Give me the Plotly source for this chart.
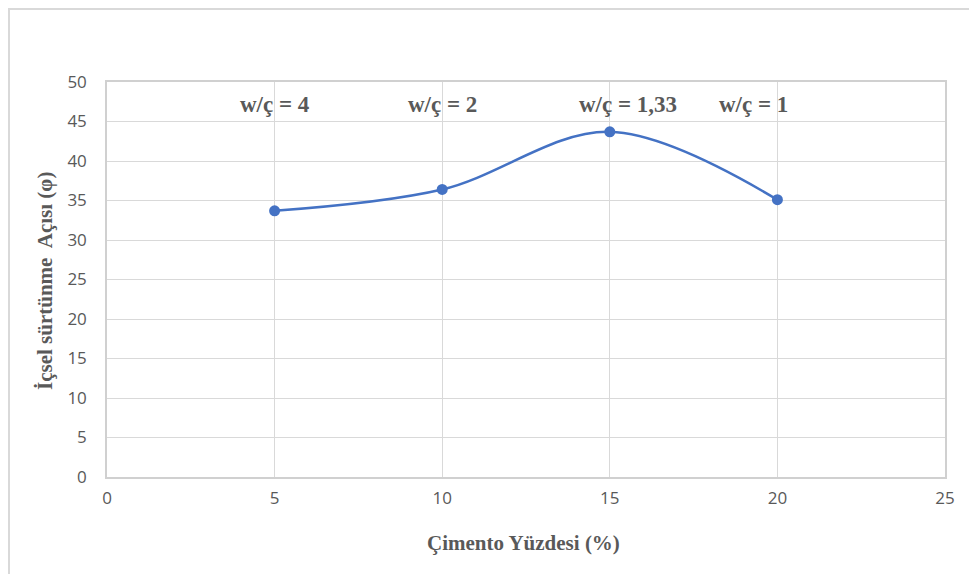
import plotly.graph_objects as go

cement_pct = [5, 10, 15, 20]
friction_angle = [33.7, 36.4, 43.7, 35.1]
wc_labels = ["w/ç = 4", "w/ç = 2", "w/ç = 1,33", "w/ç = 1"]
wc_label_x = [5.0, 10.0, 15.55, 19.3]
wc_label_y = 47.2

# figure is placed at an 8px page offset (default body margin)
W, H = 969, 566
L, R, T, B = 99, 32, 74, 97
pw, ph = W - L - R, H - T - B

def px_x(p):
    return (p - L) / pw

def px_y(p):
    return (H - B - p) / ph

GRAY = "#595959"

fig = go.Figure()
fig.add_trace(go.Scatter(
    x=cement_pct, y=friction_angle, mode="lines+markers",
    line=dict(color="#4472C4", width=2.5, shape="spline", smoothing=1),
    marker=dict(color="#4472C4", size=11),
    showlegend=False,
))

for t, x in zip(wc_labels, wc_label_x):
    fig.add_annotation(x=x, y=wc_label_y, text="<b>" + t + "</b>", showarrow=False,
                       font=dict(family="Liberation Serif", size=23, color=GRAY),
                       xanchor="center", yanchor="middle")

fig.add_annotation(xref="paper", yref="paper", x=px_x(515), y=px_y(535),
                   text="<b>Çimento Yüzdesi (%)</b>", showarrow=False,
                   font=dict(family="Liberation Serif", size=21, color=GRAY),
                   xanchor="center", yanchor="middle")
fig.add_annotation(xref="paper", yref="paper", x=px_x(37), y=px_y(273),
                   text="<b>İçsel sürtünme&nbsp; Açısı (φ)</b>", showarrow=False,
                   textangle=-90,
                   font=dict(family="Liberation Serif", size=21, color=GRAY),
                   xanchor="center", yanchor="middle")

fig.add_shape(type="rect", xref="paper", yref="paper",
              x0=px_x(1), x1=px_x(990), y0=px_y(590), y1=px_y(1),
              line=dict(color="#d9d9d9", width=2), fillcolor="rgba(0,0,0,0)", layer="below")

axis_common = dict(showgrid=True, gridcolor="#d9d9d9", gridwidth=1,
                   showline=True, linecolor="#d0d0d0", linewidth=1.5, mirror=True,
                   zeroline=False, ticks="",
                   tickfont=dict(family="Open Sans", size=17, color=GRAY))

fig.update_xaxes(range=[0, 25], dtick=5, ticklabelstandoff=5, **axis_common)
fig.update_yaxes(range=[0, 50], dtick=5, ticklabelstandoff=15, **axis_common)

fig.update_layout(width=W, height=H, margin=dict(l=L, r=R, t=T, b=B),
                  plot_bgcolor="white", paper_bgcolor="white")

fig.write_html("out.html")
